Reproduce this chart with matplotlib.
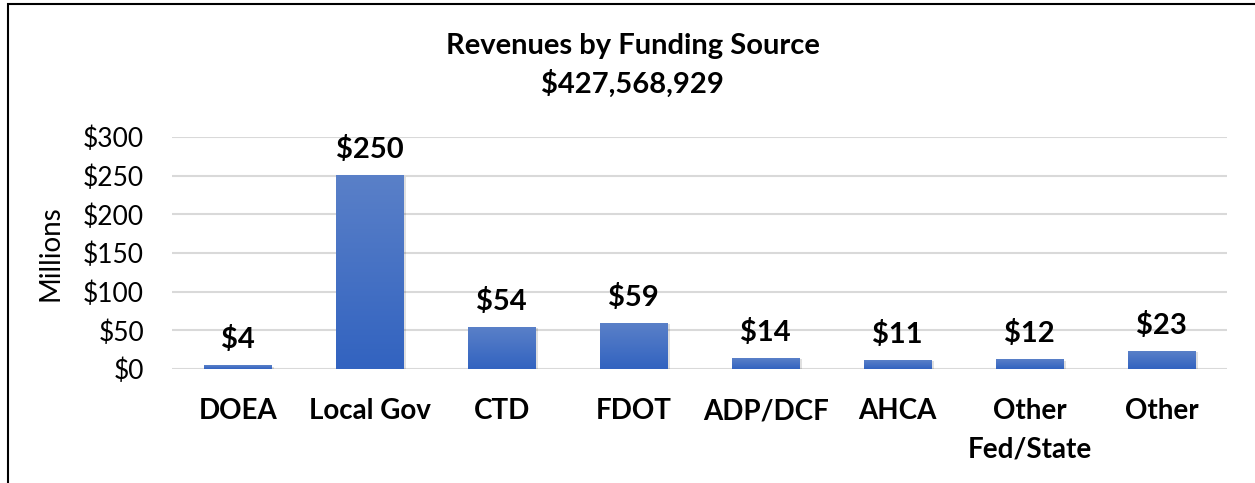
import numpy as np
import matplotlib
matplotlib.use("Agg")
import matplotlib.pyplot as plt
from matplotlib.patches import Rectangle

plt.rcParams['font.family'] = ['Lato', 'DejaVu Sans']

categories = ["DOEA", "Local Gov", "CTD", "FDOT", "ADP/DCF", "AHCA", "Other\nFed/State", "Other"]
revenues = [4, 250, 54, 59, 14, 11, 12, 23]   # millions of dollars
yticks = [0, 50, 100, 150, 200, 250, 300]

fig = plt.figure(figsize=(12.55, 4.83), dpi=100)
ax = fig.add_axes([0.137, 0.236, 0.841, 0.48])

x = np.arange(len(categories))
width = 0.51

# gradient bars: light blue on top, darker at the base
grad = np.linspace(0, 1, 256).reshape(-1, 1)
cmap = matplotlib.colors.LinearSegmentedColormap.from_list("bar", ["#3263C0", "#5A80C8"])
for xi, v in zip(x, revenues):
    # soft shadow
    ax.add_patch(Rectangle((xi - width / 2 + 0.02, 0), width, v - 1.2,
                           color="#000000", alpha=0.12, zorder=2, lw=0))
    ax.imshow(grad, extent=(xi - width / 2, xi + width / 2, 0, v), origin="lower",
              cmap=cmap, aspect="auto", zorder=3)
    ax.annotate(f"${v}", (xi, v), xytext=(0, 9), textcoords="offset points",
                ha="center", va="bottom", fontsize=21, fontweight="bold")

ax.set_xlim(-0.5, len(categories) - 0.5)
ax.set_ylim(0, 300)
ax.set_yticks(yticks)
ax.set_yticklabels([f"${t}" for t in yticks], fontsize=19)
ax.set_xticks(x)
ax.set_xticklabels(categories, fontsize=20, fontweight="bold", linespacing=1.6)
ax.tick_params(axis="both", length=0)
ax.tick_params(axis="x", pad=21)
ax.tick_params(axis="y", pad=20)
ax.grid(axis="y", color="#D9D9D9", lw=1.5, zorder=0)
ax.set_axisbelow(True)
for s in ax.spines.values():
    s.set_visible(False)
ax.set_ylabel("Millions", fontsize=20)
ax.yaxis.set_label_coords(-0.103, 0.5)

fig.text(0.504, 0.865, "Revenues by Funding Source\n$427,568,929", ha="center", va="center",
         fontsize=21, fontweight="bold", linespacing=1.45)

# chart frame
fig.patches.append(Rectangle((8 / 1255, -0.05), 1.2, 1 - 4 / 483 + 0.05, transform=fig.transFigure,
                             fill=False, edgecolor="black", lw=1.5))

fig.savefig("out.png", dpi=100)
